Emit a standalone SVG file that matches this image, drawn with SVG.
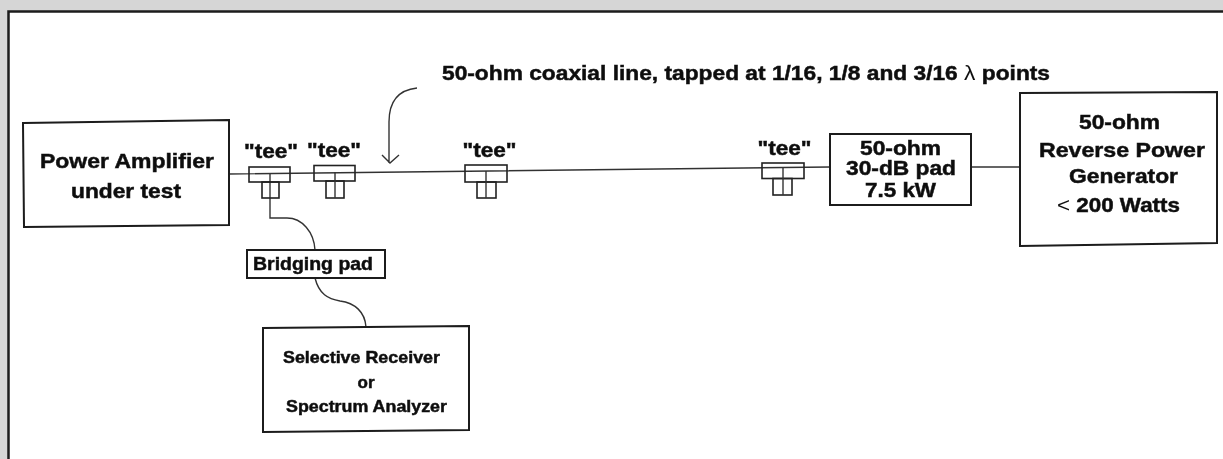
<svg xmlns="http://www.w3.org/2000/svg" width="1223" height="459" viewBox="0 0 1223 459">
<defs><filter id="soft" x="-2%" y="-2%" width="104%" height="104%"><feGaussianBlur stdDeviation="0.55"/></filter></defs>
<style>
.b{fill:#fff;stroke:#1a1a1a;stroke-width:2}
.t{fill:none;stroke:#222;stroke-width:1.6}
.c{fill:none;stroke:#333;stroke-width:1.4}
text{font-family:"Liberation Sans",Arial,sans-serif;font-weight:700;fill:#111;stroke:#111;stroke-width:.5;text-anchor:middle}
.l{font-size:21px}
.p{font-size:18.500px}
.s{font-size:17px}
.n{font-weight:400;stroke-width:0}
</style>
<g filter="url(#soft)">
<rect width="1223" height="459" fill="#fff"/>
<path d="M0 0H1223V11H8V459H0Z" fill="#d6d6d6"/>
<path d="M1223 11.500H8.500V459" fill="none" stroke="#1a1a1a" stroke-width="2.500"/>
<g id="connectors">
<path class="c" d="M229 174L830 167M971 167H1023"/>
<path class="c" d="M270 174V218H287C302 218 314 232 315 250"/>
<path class="c" d="M315 278C319 294 328 299 340 301C355 303 365 312 366 327"/>
<path class="c" d="M417 88C398 90 389 102 389 122V163M382 155L390 163L399 155"/>
</g>
<g id="amp"><path class="b" d="M23 123L229 120V225L24 227Z"/><text class="l" x="127" y="168" textLength="174" lengthAdjust="spacingAndGlyphs">Power Amplifier</text><text class="l" x="126" y="198" textLength="110" lengthAdjust="spacingAndGlyphs">under test</text></g>
<g id="tee1"><text class="l" x="271" y="158" textLength="54" lengthAdjust="spacingAndGlyphs">"tee"</text><rect class="t" x="249" y="167" width="41" height="15"/><rect class="t" x="262" y="182" width="17" height="16"/></g>
<g id="tee2"><text class="l" x="334" y="157" textLength="54" lengthAdjust="spacingAndGlyphs">"tee"</text><rect class="t" x="314" y="165.500" width="41" height="15.500"/><rect class="t" x="326" y="181" width="18" height="17"/><path class="c" d="M335 172V198"/></g>
<g id="tee3"><text class="l" x="489.500" y="157" textLength="54" lengthAdjust="spacingAndGlyphs">"tee"</text><rect class="t" x="465" y="165" width="42" height="17"/><rect class="t" x="477" y="182" width="19" height="16"/><path class="c" d="M486 171V198"/></g>
<g id="tee4"><text class="l" x="784.500" y="155" textLength="54" lengthAdjust="spacingAndGlyphs">"tee"</text><rect class="t" x="762" y="163" width="42" height="15.500"/><rect class="t" x="773" y="178.500" width="19" height="16.500"/><path class="c" d="M783 168V195"/></g>
<g id="pad30"><rect class="b" x="830" y="134" width="141" height="71"/><text class="l" x="900.500" y="155" textLength="81" lengthAdjust="spacingAndGlyphs">50-ohm</text><text class="l" x="901" y="175" textLength="110" lengthAdjust="spacingAndGlyphs">30-dB pad</text><text class="l" x="900.500" y="197" textLength="71" lengthAdjust="spacingAndGlyphs">7.5 kW</text></g>
<g id="generator"><path class="b" d="M1020 93L1217 92V243L1020 246Z"/><text class="l" x="1119.500" y="129" textLength="81" lengthAdjust="spacingAndGlyphs">50-ohm</text><text class="l" x="1122" y="157" textLength="166" lengthAdjust="spacingAndGlyphs">Reverse Power</text><text class="l" x="1123.500" y="183" textLength="109" lengthAdjust="spacingAndGlyphs">Generator</text><text class="l" x="1118.500" y="212" textLength="123" lengthAdjust="spacingAndGlyphs"><tspan class="n">&lt;</tspan> 200 Watts</text></g>
<g id="bridging"><rect class="b" x="247" y="250" width="138" height="28"/><text class="p" x="313" y="270" textLength="120" lengthAdjust="spacingAndGlyphs">Bridging pad</text></g>
<g id="receiver"><path class="b" d="M263 328L469 326V430L263 432Z"/><text class="s" x="361.500" y="363" textLength="157" lengthAdjust="spacingAndGlyphs">Selective Receiver</text><text class="s" x="366" y="388" textLength="17" lengthAdjust="spacingAndGlyphs">or</text><text class="s" x="366.500" y="412" textLength="161" lengthAdjust="spacingAndGlyphs">Spectrum Analyzer</text></g>
<text class="l" x="442" y="80" style="text-anchor:start" textLength="608" lengthAdjust="spacingAndGlyphs">50-ohm coaxial line, tapped at 1/16, 1/8 and 3/16 <tspan class="n">λ</tspan> points</text>
</g>
</svg>
